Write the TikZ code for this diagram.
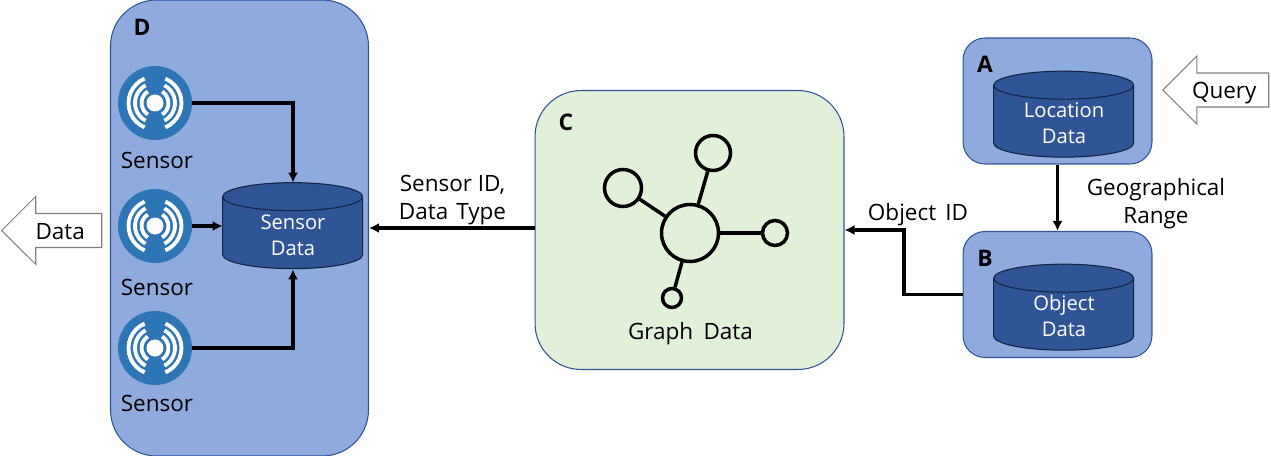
\documentclass[tikz,border=0pt]{standalone}
\usepackage{fontspec}
\setmainfont{Open Sans}
\usetikzlibrary{arrows.meta,shapes.arrows}
\definecolor{panelblue}{HTML}{8FAADC}
\definecolor{paneledge}{HTML}{2F5597}
\definecolor{panelgreen}{HTML}{E2F0D9}
\definecolor{dbblue}{HTML}{2F5597}
\definecolor{dbedge}{HTML}{14233F}
\definecolor{iconblue}{HTML}{2E75B6}
\tikzset{
	panel/.style={draw=paneledge,fill=panelblue,line width=0.6pt,rectangle,inner sep=0pt},
	letter/.style={font=\fontsize{13}{15}\selectfont\bfseries,inner sep=0pt},
	txt/.style={font=\fontsize{12.8}{16}\selectfont,align=center,inner sep=0pt},
	db/.style={rectangle,minimum width=2.8cm,minimum height=1.72cm,inner sep=0pt},
	dbline/.style={draw=dbedge,fill=dbblue,line width=0.6pt},
	dbtxt/.style={text=white,font=\fontsize{11.5}{14.7}\selectfont,align=center,inner sep=0pt},
	flow/.style={line width=1.8pt,-{Latex[length=2mm,width=2mm]}},
	bigarrow/.style={single arrow,shape border rotate=180,draw=black!50,fill=white,line width=0.6pt,
		minimum width=1.34cm,minimum height=2cm,single arrow head extend=0.34cm,inner sep=0pt,anchor=tip,
		text height=0.5cm,text depth=0.16cm,font=\fontsize{12.8}{15}\selectfont},
	sensorbox/.style={circle,fill=iconblue,minimum size=1.48cm,inner sep=0pt},
	wave/.style={white,line width=2.2pt},
	vertex/.style={circle,draw=black,line width=2pt,inner sep=0pt},
	edge/.style={line width=2pt}
}
\begin{document}
\begin{tikzpicture}[x=0.02cm,y=-0.02cm]
\useasboundingbox (0,0) rectangle (1271,456);

% panels
\node[panel,rounded corners=0.92cm,minimum width=5.16cm,minimum height=9.12cm] (D) at (239.5,228) {};
\node[panel,fill=panelgreen,rounded corners=0.92cm,minimum width=6.18cm,minimum height=5.58cm] (C) at (689.5,230) {};
\node[panel,rounded corners=0.44cm,minimum width=3.78cm,minimum height=2.52cm] (A) at (1057.5,101) {};
\node[panel,rounded corners=0.44cm,minimum width=3.78cm,minimum height=2.52cm] (B) at (1057.5,294.5) {};
\node[letter] (Dname) at (142,27) {D};
\node[letter] (Cname) at (566,122) {C};
\node[letter] (Aname) at (985,64) {A};
\node[letter] (Bname) at (985,258) {B};

% databases
\foreach \d/\x/\y in {sdata/293/226,ldata/1064/114.5,odata/1064/307.5}{
	\node[db] (\d) at (\x,\y) {};
	\draw[dbline] (\d.north west) ++(0,14) -- ++(0,58) arc[start angle=180,end angle=0,x radius=70,y radius=14] -- ++(0,-58)
		arc[start angle=0,end angle=-180,x radius=70,y radius=14] arc[start angle=180,end angle=0,x radius=70,y radius=14];
}
\node[dbtxt] (stext) at (293,235) {Sensor\\Data};
\node[dbtxt] (ltext) at (1064,123) {Location\\Data};
\node[dbtxt] (otext) at (1064,316) {Object\\Data};

% sensors
\foreach \n/\y/\ty in {1/103/160.5,2/226/287.5,3/348/403.5}{
	\node[sensorbox] (s\n) at (155,\y) {};
	\foreach \r/\a in {13.5/58,20/62,26.5/67}{
		\draw[wave] (s\n.center) ++(-\a:\r) arc[start angle=-\a,end angle=\a,radius=\r];
		\draw[wave] (s\n.center) ++(180-\a:\r) arc[start angle=180-\a,end angle=180+\a,radius=\r];
	}
	\fill[white] (s\n.center) circle (8.5);
	\node[txt] (s\n name) at (157,\ty) {Sensor};
}

% graph
\node[vertex,minimum size=1.14cm] (hub) at (690,233) {};
\node[vertex,minimum size=0.7cm] (g1) at (713,153) {};
\node[vertex,minimum size=0.74cm] (g2) at (623,188) {};
\node[vertex,minimum size=0.5cm] (g3) at (775,233) {};
\node[vertex,minimum size=0.38cm] (g4) at (672,298) {};
\draw[edge] (hub) -- (g1);
\draw[edge] (hub) -- (g2);
\draw[edge] (hub) -- (g3);
\draw[edge] (hub) -- (g4);
\node[txt] (glabel) at (690.5,334) {Graph\hspace{0.2em} Data};

% connectors
\draw[flow] (s1.east) -| (sdata.north);
\draw[flow] (s2.east) -- (sdata.west);
\draw[flow] (s3.east) -| (sdata.south);
\draw[flow] (C.west |- D.east) -- (D.east);
\draw[flow] (A.south) -- (B.north);
\coordinate (bend) at (904,294.5);
\draw[flow] (B.west) -- (bend) |- (C.east);

% labels
\node[txt] (l1) at (452.5,200.5) {Sensor ID,\\Data\hspace{0.1em} Type};
\node[txt] (l2) at (918,215) {Object\hspace{0.15em} ID};
\node[txt] (l3) at (1156,203.5) {Geographical\\Range};

% in and out
\node[bigarrow] (out) at (1,230.5) {Data\hspace{0.2cm}};
\node[bigarrow,minimum height=2.12cm] (in) at (1162,90) {Query\hspace{0.2cm}};
\end{tikzpicture}
\end{document}
